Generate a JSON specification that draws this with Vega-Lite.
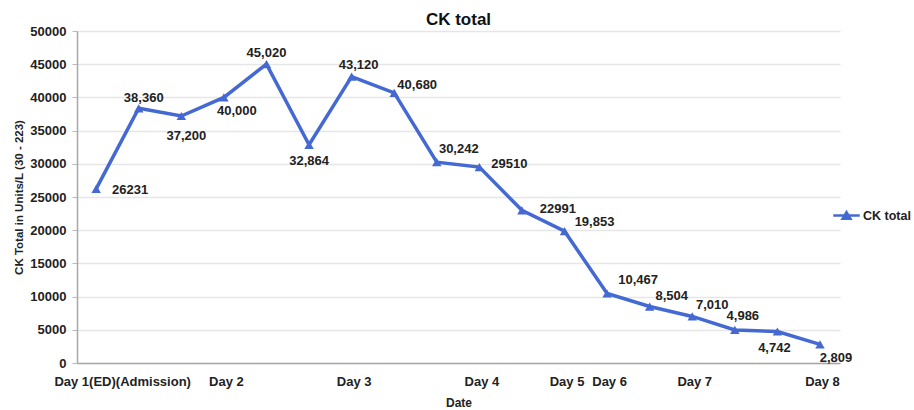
{
  "$schema": "https://vega.github.io/schema/vega-lite/v6.json",
  "autosize": {"type": "none"},
  "width": 763,
  "height": 332,
  "padding": {"left": 77, "top": 31, "right": 74, "bottom": 47},
  "background": "white",
  "config": {
    "font": "Liberation Sans",
    "view": {"stroke": null}
  },
  "title": {"text": "CK total", "fontSize": 17, "fontWeight": "bold", "font": "Liberation Sans", "color": "#111", "anchor": "middle", "offset": -4},
  "data": {
    "values": [
      {"idx": 0, "value": 26231, "label": "26231", "series": "CK total"},
      {"idx": 1, "value": 38360, "label": "38,360", "series": "CK total"},
      {"idx": 2, "value": 37200, "label": "37,200", "series": "CK total"},
      {"idx": 3, "value": 40000, "label": "40,000", "series": "CK total"},
      {"idx": 4, "value": 45020, "label": "45,020", "series": "CK total"},
      {"idx": 5, "value": 32864, "label": "32,864", "series": "CK total"},
      {"idx": 6, "value": 43120, "label": "43,120", "series": "CK total"},
      {"idx": 7, "value": 40680, "label": "40,680", "series": "CK total"},
      {"idx": 8, "value": 30242, "label": "30,242", "series": "CK total"},
      {"idx": 9, "value": 29510, "label": "29510", "series": "CK total"},
      {"idx": 10, "value": 22991, "label": "22991", "series": "CK total"},
      {"idx": 11, "value": 19853, "label": "19,853", "series": "CK total"},
      {"idx": 12, "value": 10467, "label": "10,467", "series": "CK total"},
      {"idx": 13, "value": 8504, "label": "8,504", "series": "CK total"},
      {"idx": 14, "value": 7010, "label": "7,010", "series": "CK total"},
      {"idx": 15, "value": 4986, "label": "4,986", "series": "CK total"},
      {"idx": 16, "value": 4742, "label": "4,742", "series": "CK total"},
      {"idx": 17, "value": 2809, "label": "2,809", "series": "CK total"}
    ]
  },
  "encoding": {
    "x": {
      "field": "idx", "type": "quantitative",
      "scale": {"domain": [-0.45, 17.47], "nice": false, "zero": false},
      "axis": {
        "title": "Date",
        "titleFontSize": 12, "titleFontWeight": "bold", "titleColor": "#222", "titlePadding": 9,
        "values": [0, 3, 6, 9, 11, 12, 14, 17],
        "labelExpr": "datum.value == 0 ? 'Day 1(ED)(Admission)' : datum.value == 3 ? 'Day 2' : datum.value == 6 ? 'Day 3' : datum.value == 9 ? 'Day 4' : datum.value == 11 ? 'Day 5' : datum.value == 12 ? 'Day 6' : datum.value == 14 ? 'Day 7' : 'Day 8'",
        "labelOffset": {"condition": {"test": "datum.value == 0", "value": 26}, "value": 2},
        "labelFontSize": 13, "labelFontWeight": "bold", "labelColor": "#222",
        "labelPadding": 12, "labelOverlap": false, "labelFlush": false,
        "ticks": false, "grid": false,
        "domainColor": "#a8a8a8", "domainWidth": 1.5
      }
    },
    "y": {
      "field": "value", "type": "quantitative",
      "scale": {"domain": [0, 50000], "nice": false},
      "axis": {
        "title": "CK Total in Units/L (30 - 223)",
        "titleFontSize": 11.5, "titleFontWeight": "bold", "titleColor": "#222", "titlePadding": 5,
        "values": [0, 5000, 10000, 15000, 20000, 25000, 30000, 35000, 40000, 45000, 50000],
        "format": "d",
        "labelFontSize": 13, "labelFontWeight": "bold", "labelColor": "#222", "labelPadding": 6,
        "tickSize": 5, "tickColor": "#bbb",
        "grid": true, "gridColor": "#e6e6e6", "gridWidth": 1.5,
        "domainColor": "#a8a8a8", "domainWidth": 1.5
      }
    }
  },
  "layer": [
    {
      "mark": {"type": "line", "strokeWidth": 3.5, "color": "#4469d2"},
      "encoding": {
        "color": {
          "field": "series", "type": "nominal",
          "scale": {"range": ["#4469d2"]},
          "legend": {
            "title": null, "orient": "none", "legendX": 755, "legendY": 170,
            "symbolType": "M-1,0H1M-0.3,0.25L0,-0.25L0.3,0.25Z",
            "symbolSize": 700, "symbolStrokeWidth": 2.5, "symbolFillColor": "#4469d2", "symbolStrokeColor": "#4469d2",
            "labelFontSize": 12.5, "labelFontWeight": "bold", "labelColor": "#222", "labelOffset": 2, "padding": 0
          }
        }
      }
    },
    {
      "mark": {"type": "point", "shape": "triangle-up", "filled": true, "size": 90, "color": "#4469d2", "opacity": 1}
    },
    {"transform": [{"filter": "datum.idx == 0"}], "mark": {"type": "text", "dx": 34, "dy": 1, "fontSize": 13, "fontWeight": "bold", "color": "#222"}, "encoding": {"text": {"field": "label"}}},
    {"transform": [{"filter": "datum.idx == 1"}], "mark": {"type": "text", "dx": 5, "dy": -10, "fontSize": 13, "fontWeight": "bold", "color": "#222"}, "encoding": {"text": {"field": "label"}}},
    {"transform": [{"filter": "datum.idx == 2"}], "mark": {"type": "text", "dx": 5, "dy": 20, "fontSize": 13, "fontWeight": "bold", "color": "#222"}, "encoding": {"text": {"field": "label"}}},
    {"transform": [{"filter": "datum.idx == 3"}], "mark": {"type": "text", "dx": 13, "dy": 14, "fontSize": 13, "fontWeight": "bold", "color": "#222"}, "encoding": {"text": {"field": "label"}}},
    {"transform": [{"filter": "datum.idx == 4"}], "mark": {"type": "text", "dx": 0, "dy": -11, "fontSize": 13, "fontWeight": "bold", "color": "#222"}, "encoding": {"text": {"field": "label"}}},
    {"transform": [{"filter": "datum.idx == 5"}], "mark": {"type": "text", "dx": 0, "dy": 16, "fontSize": 13, "fontWeight": "bold", "color": "#222"}, "encoding": {"text": {"field": "label"}}},
    {"transform": [{"filter": "datum.idx == 6"}], "mark": {"type": "text", "dx": 7, "dy": -12, "fontSize": 13, "fontWeight": "bold", "color": "#222"}, "encoding": {"text": {"field": "label"}}},
    {"transform": [{"filter": "datum.idx == 7"}], "mark": {"type": "text", "dx": 23, "dy": -8, "fontSize": 13, "fontWeight": "bold", "color": "#222"}, "encoding": {"text": {"field": "label"}}},
    {"transform": [{"filter": "datum.idx == 8"}], "mark": {"type": "text", "dx": 22, "dy": -13, "fontSize": 13, "fontWeight": "bold", "color": "#222"}, "encoding": {"text": {"field": "label"}}},
    {"transform": [{"filter": "datum.idx == 9"}], "mark": {"type": "text", "dx": 30, "dy": -3, "fontSize": 13, "fontWeight": "bold", "color": "#222"}, "encoding": {"text": {"field": "label"}}},
    {"transform": [{"filter": "datum.idx == 10"}], "mark": {"type": "text", "dx": 36, "dy": -1, "fontSize": 13, "fontWeight": "bold", "color": "#222"}, "encoding": {"text": {"field": "label"}}},
    {"transform": [{"filter": "datum.idx == 11"}], "mark": {"type": "text", "dx": 30, "dy": -9, "fontSize": 13, "fontWeight": "bold", "color": "#222"}, "encoding": {"text": {"field": "label"}}},
    {"transform": [{"filter": "datum.idx == 12"}], "mark": {"type": "text", "dx": 31, "dy": -13, "fontSize": 13, "fontWeight": "bold", "color": "#222"}, "encoding": {"text": {"field": "label"}}},
    {"transform": [{"filter": "datum.idx == 13"}], "mark": {"type": "text", "dx": 22, "dy": -11, "fontSize": 13, "fontWeight": "bold", "color": "#222"}, "encoding": {"text": {"field": "label"}}},
    {"transform": [{"filter": "datum.idx == 14"}], "mark": {"type": "text", "dx": 20, "dy": -11, "fontSize": 13, "fontWeight": "bold", "color": "#222"}, "encoding": {"text": {"field": "label"}}},
    {"transform": [{"filter": "datum.idx == 15"}], "mark": {"type": "text", "dx": 8, "dy": -14, "fontSize": 13, "fontWeight": "bold", "color": "#222"}, "encoding": {"text": {"field": "label"}}},
    {"transform": [{"filter": "datum.idx == 16"}], "mark": {"type": "text", "dx": -3, "dy": 16, "fontSize": 13, "fontWeight": "bold", "color": "#222"}, "encoding": {"text": {"field": "label"}}},
    {"transform": [{"filter": "datum.idx == 17"}], "mark": {"type": "text", "dx": 16, "dy": 14, "fontSize": 13, "fontWeight": "bold", "color": "#222"}, "encoding": {"text": {"field": "label"}}}
  ]
}
